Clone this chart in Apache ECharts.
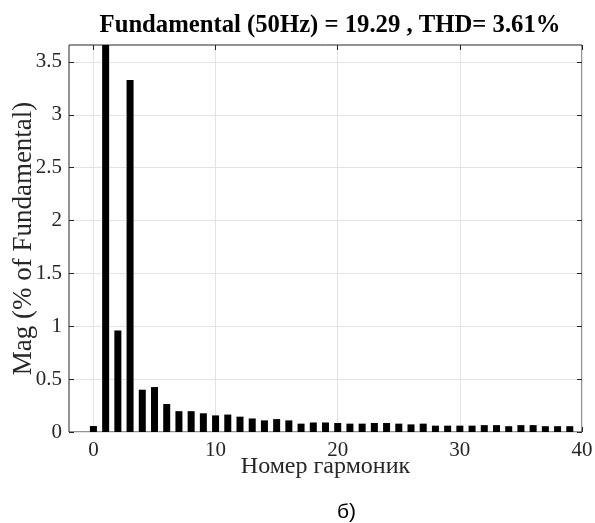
<!DOCTYPE html>
<html>
<head>
<meta charset="utf-8">
<script src="https://cdn.jsdelivr.net/npm/echarts@6/dist/echarts.min.js"></script>
<style>html,body{margin:0;padding:0;background:#fff}#c{width:595px;height:523px}</style>
</head>
<body>
<div id="c"></div>
<script>
const harmonics = [0,1,2,3,4,5,6,7,8,9,10,11,12,13,14,15,16,17,18,19,20,21,22,23,24,25,26,27,28,29,30,31,32,33,34,35,36,37,38,39];
const magnitudes = [0.057,100,0.96,3.33,0.40,0.425,0.265,0.197,0.197,0.177,0.157,0.165,0.145,0.128,0.11,0.122,0.11,0.079,0.09,0.09,
  0.085,0.079,0.079,0.085,0.085,0.079,0.072,0.079,0.06,0.06,0.06,0.06,0.065,0.065,0.055,0.065,0.065,0.055,0.055,0.055];
const xTicks = [0,10,20,30,40];
const yTicks = [0,0.5,1,1.5,2,2.5,3,3.5];
const titleText = 'Fundamental (50Hz) = 19.29 , THD= 3.61%';
const xName = 'Номер гармоник';
const yName = 'Mag (% of Fundamental)';
const caption = 'б)';

const serif = '"Liberation Serif", "Times New Roman", serif';
const ink = '#262626';
const gridC = '#e3e3e3';
const chart = echarts.init(document.getElementById('c'));
const xCommon = {type:'value', min:-2, max:40,
  axisLine:{show:false, onZero:false}, splitLine:{show:false}};
const yCommon = {type:'value', min:0, max:3.66, axisLine:{show:false, onZero:false}, splitLine:{show:false}};
chart.setOption({
  animation:false,
  title:{text:titleText, left:325, top:8, textAlign:'center',
    textStyle:{fontFamily:serif, fontWeight:'bold', fontSize:24.7, color:'#000'}},
  grid:{left:69, right:13, top:45, bottom:91, outerBoundsMode:'none', containLabel:false,
    show:true, borderColor:ink, borderWidth:1, backgroundColor:'transparent'},
  xAxis:[
    Object.assign({}, xCommon, {position:'bottom', name:xName, nameLocation:'middle', nameGap:23,
      nameMoveOverlap:false,
      nameTextStyle:{fontFamily:serif, fontSize:24, color:ink},
      axisTick:{show:true, inside:true, length:5, lineStyle:{color:ink}, customValues:xTicks},
      axisLabel:{fontFamily:serif, fontSize:21, color:ink, margin:8, customValues:xTicks},
      splitLine:{show:true, lineStyle:{color:gridC, width:1}}}),
    Object.assign({}, xCommon, {position:'top',
      axisTick:{show:true, inside:true, length:5, lineStyle:{color:ink}, customValues:xTicks},
      axisLabel:{show:false}})
  ],
  yAxis:[
    Object.assign({}, yCommon, {position:'left', name:yName, nameLocation:'middle', nameGap:32,
      nameMoveOverlap:false,
      nameTextStyle:{fontFamily:serif, fontSize:27, color:ink},
      axisTick:{show:true, inside:true, length:5, lineStyle:{color:ink}, customValues:yTicks},
      axisLabel:{fontFamily:serif, fontSize:21, color:ink, margin:7, customValues:yTicks},
      splitLine:{show:true, lineStyle:{color:gridC, width:1}}}),
    Object.assign({}, yCommon, {position:'right',
      axisTick:{show:true, inside:true, length:5, lineStyle:{color:ink}, customValues:yTicks},
      axisLabel:{show:false}})
  ],
  graphic:[{type:'text', left:337, top:502, style:{text:caption, font:'21px "Liberation Sans", Arial, sans-serif', fill:'#000'}}],
  series:[{type:'bar', xAxisIndex:0, yAxisIndex:0, barWidth:7, clip:true,
    itemStyle:{color:'#000'},
    data:harmonics.map((h,i)=>[h, magnitudes[i]])}]
});
</script>
</body>
</html>
